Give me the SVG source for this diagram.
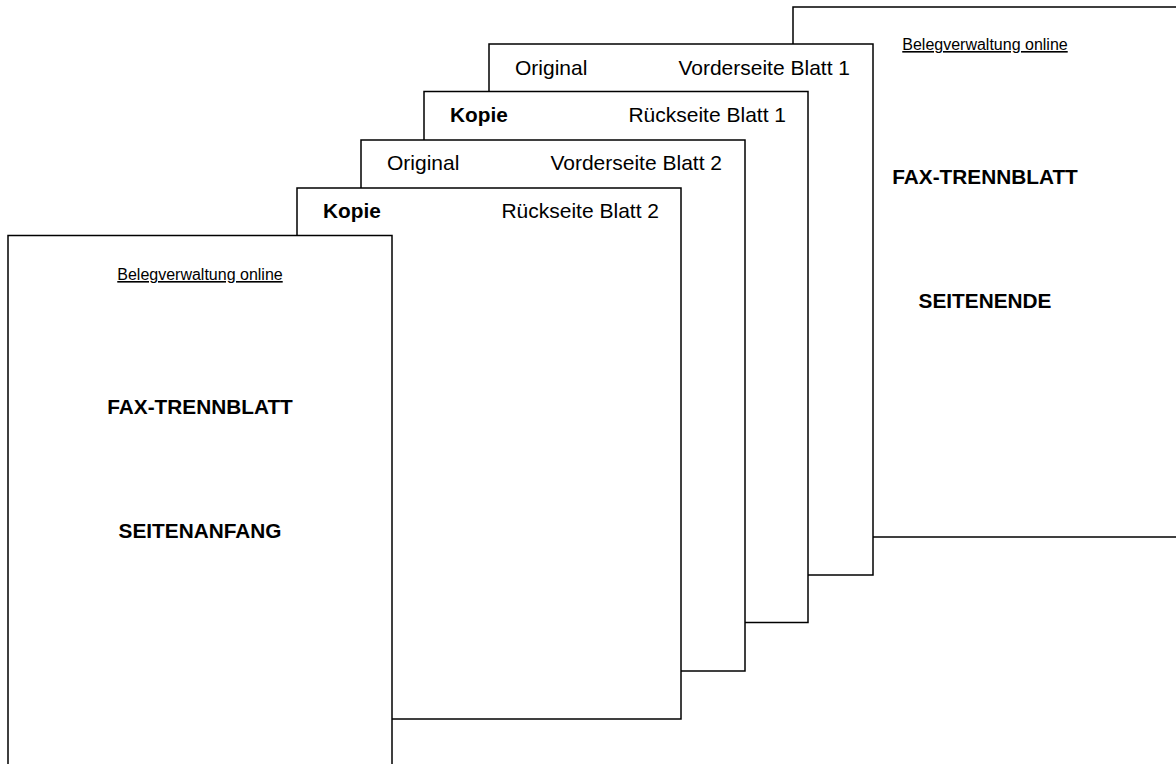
<svg xmlns="http://www.w3.org/2000/svg" width="1176" height="764" viewBox="0 0 1176 764">
<style>
.page{fill:#fff;stroke:#000;stroke-width:1.5}
.t{font-family:"Liberation Sans",Arial,sans-serif;font-size:21px;fill:#000}
.b{font-weight:bold;font-size:20.8px}
.u{font-size:16px;text-decoration:underline}
.m{text-anchor:middle}
.e{text-anchor:end}
</style>
<rect width="1176" height="764" fill="#fff"/>
<g id="page-seitenende">
<rect class="page" x="793" y="7" width="384" height="530"/>
<text class="t u m" x="985" y="50">Belegverwaltung online</text>
<text class="t b m" x="985" y="184">FAX-TRENNBLATT</text>
<text class="t b m" x="985" y="308">SEITENENDE</text>
</g>
<g id="page-vorderseite-1">
<rect class="page" x="489" y="44" width="384" height="531"/>
<text class="t" x="515" y="74.5">Original</text>
<text class="t e" x="850" y="74.5">Vorderseite Blatt 1</text>
</g>
<g id="page-rueckseite-1">
<rect class="page" x="424" y="91.5" width="384" height="531"/>
<text class="t b" x="450" y="121.5">Kopie</text>
<text class="t e" x="786" y="121.5">Rückseite Blatt 1</text>
</g>
<g id="page-vorderseite-2">
<rect class="page" x="361" y="140" width="384" height="531"/>
<text class="t" x="387" y="170">Original</text>
<text class="t e" x="722" y="170">Vorderseite Blatt 2</text>
</g>
<g id="page-rueckseite-2">
<rect class="page" x="297" y="188" width="384" height="531"/>
<text class="t b" x="323" y="217.5">Kopie</text>
<text class="t e" x="659" y="217.5">Rückseite Blatt 2</text>
</g>
<g id="page-seitenanfang">
<rect class="page" x="8" y="235.5" width="384" height="531"/>
<text class="t u m" x="200" y="280">Belegverwaltung online</text>
<text class="t b m" x="200" y="414">FAX-TRENNBLATT</text>
<text class="t b m" x="200" y="537.5">SEITENANFANG</text>
</g>
<g id="connectors"></g>
</svg>
